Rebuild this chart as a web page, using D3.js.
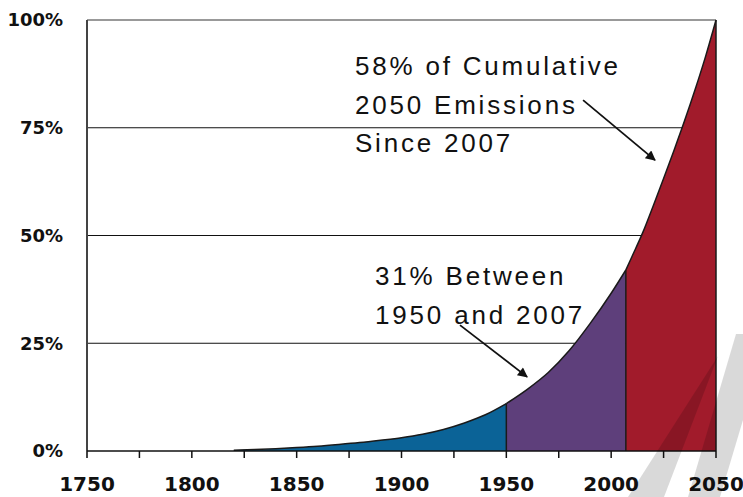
<html>
<head>
    <meta charset="utf-8">
    <style>
        body { margin: 0; background: #fff; }
        svg { display: block; }
        .tick-y { font-family: "DejaVu Sans", sans-serif; font-weight: bold; font-size: 18px; fill: #111; }
        .tick-x { font-family: "DejaVu Sans", sans-serif; font-weight: bold; font-size: 20px; fill: #111; }
        .note { font-family: "Liberation Sans", Arial, sans-serif; font-size: 26px; letter-spacing: 2.8px; fill: #111; }
    </style>
    <script src="https://d3js.org/d3.v7.min.js"></script>
</head>
<body>
    <svg width=743 height=497></svg>
    <script>
        // data: cumulative share of 2050 emissions (%)
        var years = [1820, 1830, 1840, 1850, 1860, 1870, 1880, 1890, 1900, 1910, 1920, 1930, 1940, 1950,
                     1960, 1970, 1980, 1990, 2000, 2007,
                     2010, 2015, 2020, 2025, 2030, 2035, 2040, 2045, 2050];
        var cumulative = [0.2, 0.35, 0.55, 0.8, 1.1, 1.5, 1.95, 2.5, 3.1, 3.9, 5.0, 6.5, 8.4, 11.0,
                          14.3, 18.2, 23.3, 29.6, 36.6, 42,
                          45.2, 50.6, 56.8, 63.2, 69.8, 76.6, 83.8, 91.5, 100];
        var segmentBreaks = [1820, 1950, 2007, 2050];
        var segmentColors = ['#0b6397', '#5e3f7b', '#a11b2b'];
        var xTicks = [1750, 1800, 1850, 1900, 1950, 2000, 2050];
        var yTicks = [0, 25, 50, 75, 100];

        var margin = { top: 20, right: 27, bottom: 46, left: 87 };
        var svg = d3.select('svg');
        var width = 743 - margin.left - margin.right;
        var height = 497 - margin.top - margin.bottom;

        var x = d3.scaleLinear().domain([1750, 2050]).range([0, width]);
        var y = d3.scaleLinear().domain([0, 100]).range([height, 0]);

        var data = years.map(function(yr, i) { return { year: yr, v: cumulative[i] }; });

        var grp = svg.append('g')
            .attr('transform', 'translate(' + margin.left + ',' + margin.top + ')');

        // gridlines
        grp.selectAll('.grid')
            .data(yTicks.filter(function(d) { return d > 0 && d < 100; }))
            .enter().append('line')
            .attr('x1', 0).attr('x2', width)
            .attr('y1', function(d) { return y(d); })
            .attr('y2', function(d) { return y(d); })
            .attr('stroke', '#111').attr('stroke-width', 1.2);
        grp.append('line')
            .attr('x1', 0).attr('x2', width)
            .attr('y1', y(100)).attr('y2', y(100))
            .attr('stroke', '#999').attr('stroke-width', 2);

        // coloured segments, each with its own outline
        var area = d3.area()
            .x(function(d) { return x(d.year); })
            .y0(y(0))
            .y1(function(d) { return y(d.v); })
            .curve(d3.curveMonotoneX);
        var line = d3.line()
            .x(function(d) { return x(d.year); })
            .y(function(d) { return y(d.v); })
            .curve(d3.curveMonotoneX);
        for (var s = 0; s < segmentColors.length; s++) {
            var seg = data.filter(function(d) { return d.year >= segmentBreaks[s] && d.year <= segmentBreaks[s + 1]; });
            grp.append('path')
                .datum(seg)
                .attr('d', area)
                .attr('fill', segmentColors[s]);
            grp.append('path')
                .datum(seg)
                .attr('d', line)
                .attr('fill', 'none')
                .attr('stroke', '#1a1a1a')
                .attr('stroke-width', 1.5);
        }

        // segment boundaries
        segmentBreaks.slice(1).forEach(function(b) {
            var v = cumulative[years.indexOf(b)];
            grp.append('line')
                .attr('x1', x(b)).attr('x2', x(b))
                .attr('y1', y(0)).attr('y2', y(v))
                .attr('stroke', '#1a1a1a').attr('stroke-width', 1.5);
        });

        // axes
        grp.append('line')
            .attr('x1', 0).attr('x2', 0)
            .attr('y1', y(100)).attr('y2', height + 7)
            .attr('stroke', '#444').attr('stroke-width', 2);
        grp.append('line')
            .attr('x1', 0).attr('x2', width)
            .attr('y1', height).attr('y2', height)
            .attr('stroke', '#111').attr('stroke-width', 1.5);
        var minorTicks = d3.range(1775, 2051, 25);
        grp.selectAll('.xt')
            .data(minorTicks)
            .enter().append('line')
            .attr('x1', function(d) { return x(d); })
            .attr('x2', function(d) { return x(d); })
            .attr('y1', height).attr('y2', height + 7)
            .attr('stroke', '#111').attr('stroke-width', 1.5);

        grp.selectAll('.tick-x')
            .data(xTicks)
            .enter().append('text')
            .attr('class', 'tick-x')
            .attr('x', function(d) { return x(d); })
            .attr('y', height + 40)
            .attr('text-anchor', 'middle')
            .text(function(d) { return d; });

        grp.selectAll('.tick-y')
            .data(yTicks)
            .enter().append('text')
            .attr('class', 'tick-y')
            .attr('x', -24)
            .attr('y', function(d) { return y(d); })
            .attr('dy', '0.36em')
            .attr('text-anchor', 'end')
            .text(function(d) { return d + '%'; });

        // annotations
        svg.append('defs').append('marker')
            .attr('id', 'arrow')
            .attr('viewBox', '0 0 10 10')
            .attr('refX', 9).attr('refY', 5)
            .attr('markerWidth', 12).attr('markerHeight', 10)
            .attr('markerUnits', 'userSpaceOnUse')
            .attr('orient', 'auto')
            .append('path')
            .attr('d', 'M0,0 L10,5 L0,10 z')
            .attr('fill', '#111');

        var notes = [
            { lines: ['58% of Cumulative', '2050 Emissions', 'Since 2007'], year: 1877.8, v: 87.2,
              from: [1986.6, 81.4], to: [2020.9, 67.5] },
            { lines: ['31% Between', '1950 and 2007'], year: 1887.4, v: 38.5,
              from: [1927.9, 29.2], to: [1959.9, 17.2] }
        ];
        notes.forEach(function(n) {
            var t = grp.append('text').attr('class', 'note')
                .attr('x', x(n.year)).attr('y', y(n.v));
            n.lines.forEach(function(l, i) {
                t.append('tspan').attr('x', x(n.year)).attr('dy', i === 0 ? 0 : 38.5).text(l);
            });
            grp.append('line')
                .attr('x1', x(n.from[0])).attr('y1', y(n.from[1]))
                .attr('x2', x(n.to[0])).attr('y2', y(n.to[1]))
                .attr('stroke', '#111').attr('stroke-width', 1.8)
                .attr('marker-end', 'url(#arrow)');
        });

        // grey watermark slashes in the bottom-right corner
        var stripes = [
            [[628, 497], [664, 497], [718, 356]],
            [[688, 497], [720, 497], [743, 420], [743, 334], [736, 334]]
        ];
        svg.append('g').selectAll('polygon')
            .data(stripes)
            .enter().append('polygon')
            .attr('points', function(d) { return d.map(function(p) { return p.join(','); }).join(' '); })
            .attr('fill', '#000')
            .attr('fill-opacity', 0.15);
    </script>
</body>
</html>
